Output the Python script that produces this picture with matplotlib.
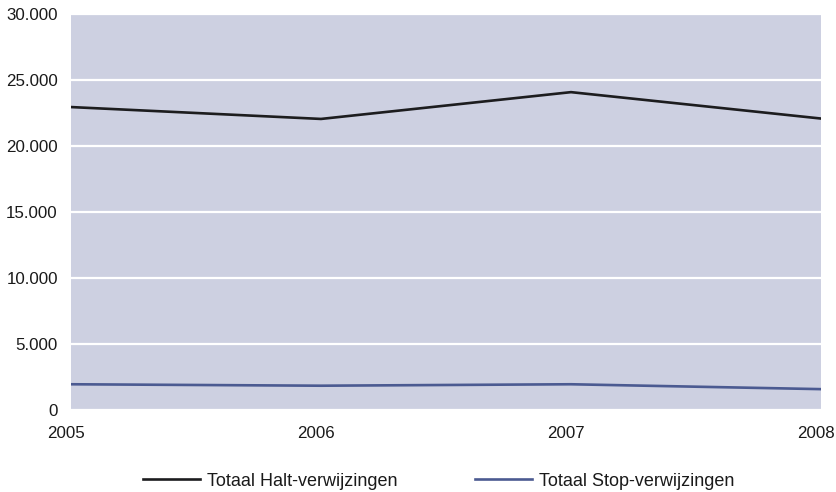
import matplotlib
matplotlib.use('Agg')
import matplotlib.pyplot as plt
import matplotlib.transforms as mtransforms

################ data ################
jaren = [2005, 2006, 2007, 2008]
halt = [22950, 22050, 24080, 22080]
stop = [1950, 1840, 1950, 1580]
labels = ['Totaal Halt-verwijzingen', 'Totaal Stop-verwijzingen']

y_ticks = [0, 5000, 10000, 15000, 20000, 25000, 30000]
y_ticklabels = ['0', '5.000', '10.000', '15.000', '20.000', '25.000', '30.000']

plt.rcParams['font.family'] = ['Liberation Sans', 'DejaVu Sans']

fig = plt.figure(figsize=(8.36, 4.92), dpi=100)
ax = fig.add_axes([71/836, 82/492, 750/836, 396/492])
ax.set_facecolor('#cdd0e1')

ax.plot(jaren, halt, color='#1c1c1e', linewidth=1.9, label=labels[0], zorder=3)
ax.plot(jaren, stop, color='#4b5a91', linewidth=1.9, label=labels[1], zorder=3)

ax.set_xlim(2005, 2008)
ax.set_ylim(0, 30000)
ax.set_yticks(y_ticks)
ax.set_yticklabels(y_ticklabels)
ax.set_xticks(jaren)
ax.set_xticklabels([str(j) for j in jaren])

ax.yaxis.grid(True, color='white', linewidth=1.6)
ax.set_axisbelow(True)
for s in ax.spines.values():
    s.set_visible(False)
ax.tick_params(axis='both', length=0, labelsize=12.2, colors='#1a1a1a')
ax.tick_params(axis='y', pad=9.5)
ax.tick_params(axis='x', pad=11.5)

# tick labels sit a few pixels left of the points
shift = mtransforms.ScaledTranslation(-5/100, 0, fig.dpi_scale_trans)
for lab in ax.get_xticklabels():
    lab.set_transform(lab.get_transform() + shift)

leg = fig.legend(loc='center', bbox_to_anchor=(439/836, 1 - 481/492), ncol=2,
                 frameon=False, fontsize=13, handlelength=3.15,
                 handletextpad=0.39, columnspacing=4.3)
for t in leg.get_texts():
    t.set_color('#1a1a1a')

fig.savefig('out.png', dpi=100)
